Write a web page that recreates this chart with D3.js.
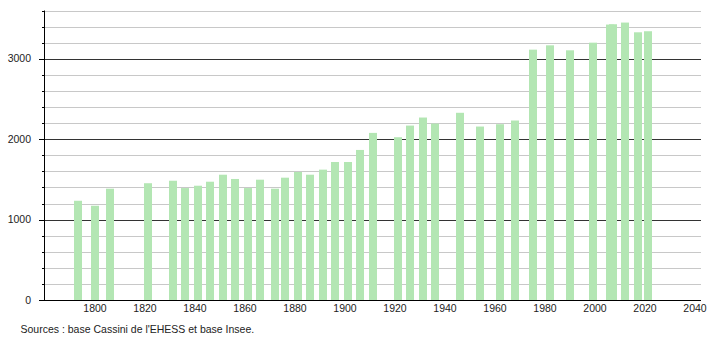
<!DOCTYPE html>
<html><head><meta charset="utf-8">
<script src="https://cdn.jsdelivr.net/npm/d3@7/dist/d3.min.js"></script>
<style>
body{margin:0;background:#fff}
text{font-family:"Liberation Sans",Arial,Helvetica,sans-serif;fill:#222}
</style>
</head><body>
<svg id="chart" width="710" height="340"></svg>
<script>
const years = [1793,1800,1806,1821,1831,1836,1841,1846,1851,1856,1861,1866,1872,1876,1881,1886,1891,1896,1901,1906,1911,1921,1926,1931,1936,1946,1954,1962,1968,1975,1982,1990,1999,2006,2007,2012,2017,2021];
const population = [1234,1172,1384,1452,1483,1392,1421,1471,1558,1505,1392,1496,1384,1521,1592,1558,1621,1716,1716,1866,2078,2024,2169,2269,2194,2328,2157,2186,2232,3113,3167,3105,3200,3425,3429,3450,3329,3342];
const xTickLabels = [1800,1820,1840,1860,1880,1900,1920,1940,1960,1980,2000,2020,2040];
const yTickLabels = [0,1000,2000,3000];
const yMinorGrid = [200,400,600,800,1200,1400,1600,1800,2200,2400,2600,2800,3200,3400,3600];
const sourceText = "Sources : base Cassini de l'EHESS et base Insee.";

const svg = d3.select("#chart");
const x = d3.scaleLinear().domain([1780, 2040]).range([45, 695]);
const y = d3.scaleLinear().domain([0, 3600]).range([300, 10.5]);
const left = 44, right = 701;
const crisp = v => Math.round(v) + 0.5;

// minor grid
svg.append("g").selectAll("line").data(yMinorGrid).join("line")
  .attr("x1", left).attr("x2", right)
  .attr("y1", d => crisp(y(d))).attr("y2", d => crisp(y(d)))
  .attr("stroke", "#c8c8c8").attr("stroke-width", 1);
// major grid
svg.append("g").selectAll("line").data(yTickLabels.filter(d => d > 0)).join("line")
  .attr("x1", left).attr("x2", right)
  .attr("y1", d => crisp(y(d))).attr("y2", d => crisp(y(d)))
  .attr("stroke", "#333").attr("stroke-width", 1);

// bars
svg.append("g").selectAll("rect").data(years).join("rect")
  .attr("x", d => Math.round(x(d) - 4))
  .attr("width", 8)
  .attr("y", (d, i) => y(population[i]))
  .attr("height", (d, i) => y(0) - y(population[i]))
  .attr("fill", "#b3e6b3");

// y axis
const yAxis = svg.append("g");
yAxis.append("line").attr("x1", crisp(left)).attr("x2", crisp(left))
  .attr("y1", y(3600)).attr("y2", 300.5).attr("stroke", "#000");
yAxis.selectAll("line.minor").data(yMinorGrid).join("line").attr("class", "minor")
  .attr("x1", left - 2).attr("x2", left)
  .attr("y1", d => crisp(y(d))).attr("y2", d => crisp(y(d))).attr("stroke", "#000");
yAxis.selectAll("line.major").data(yTickLabels).join("line").attr("class", "major")
  .attr("x1", left - 5).attr("x2", left)
  .attr("y1", d => crisp(y(d))).attr("y2", d => crisp(y(d))).attr("stroke", "#000");
yAxis.selectAll("text").data(yTickLabels).join("text")
  .attr("x", 31).attr("y", d => y(d)).attr("dy", "0.35em")
  .attr("text-anchor", "end").attr("font-size", "10.5px").text(d => d);

// x axis
svg.append("line").attr("x1", left).attr("x2", right)
  .attr("y1", 300.5).attr("y2", 300.5).attr("stroke", "#000");
svg.append("g").selectAll("text").data(xTickLabels).join("text")
  .attr("x", d => x(d)).attr("y", 312)
  .attr("text-anchor", "middle").attr("font-size", "10.5px").text(d => d);

// source
svg.append("text").attr("x", 20.5).attr("y", 333)
  .attr("font-size", "10.5px").text(sourceText);
</script>
</body></html>
